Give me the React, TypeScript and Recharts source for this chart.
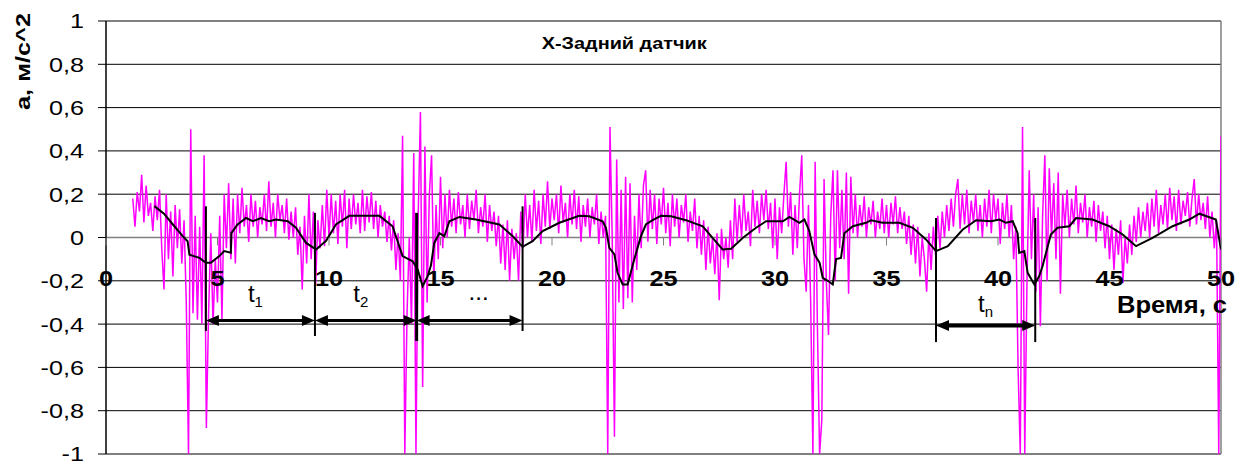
import React from 'react';
import { LineChart, Line, XAxis, YAxis, CartesianGrid, ReferenceLine } from 'recharts';

const W = 1243;
const H = 463;
const MARGIN = { top: 21, right: 22, bottom: 0, left: 46 };
const X_AXIS_H = 9;
const PLOT_H = H - MARGIN.top - MARGIN.bottom - X_AXIS_H;
const Y_ZERO_PX = MARGIN.top + PLOT_H / 2;
const X_LABEL_BASELINE = 285.5;
const FONT = '"Liberation Sans", Arial, sans-serif';

const X_TICKS = [0, 5, 10, 15, 20, 25, 30, 35, 40, 45, 50];
const Y_TICKS = [-1, -0.8, -0.6, -0.4, -0.2, 0, 0.2, 0.4, 0.6, 0.8, 1];

// raw acceleration, sampled every 0.1 s; first row starts at 1.2 s, next rows at 2 s, 3 s, ...
const SAMPLE_STEP = 0.1;
const MAGENTA_FIRST_T = 1.2;
const MAGENTA_ROWS: number[][] = [
  [0.18, 0.05, 0.21, 0.12, 0.29, 0.07, 0.24, 0.1],
  [0.16, 0.03, 0.19, 0.08, 0.22, -0.05, -0.24, 0.2, -0.1, 0.12],
  [-0.18, 0.15, -0.05, 0.13, -0.12, 0.08, -0.3, -1.0, 0.5, -0.35],
  [0.1, -0.38, 0.05, -0.4, 0.38, -0.88, -0.35, 0.02, -0.4, -0.1],
  [-0.3, 0.1, -0.38, 0.2, -0.05, 0.25, -0.1, 0.18, -0.12, 0.2],
  [0.02, 0.23, 0.05, 0.15, -0.02, 0.2, 0.05, 0.17, 0.0, 0.14],
  [0.06, 0.2, 0.03, 0.26, 0.05, 0.16, 0.0, 0.2, 0.08, 0.15],
  [0.02, 0.18, -0.01, 0.12, 0.0, 0.14, -0.08, 0.05, -0.24, 0.1],
  [-0.12, 0.2, -0.1, 0.12, -0.22, 0.08, -0.05, 0.15, -0.04, 0.22],
  [0.0, 0.2, 0.02, 0.17, -0.03, 0.2, 0.05, 0.22, -0.05, 0.18],
  [0.04, 0.2, 0.06, 0.16, 0.02, 0.22, 0.03, 0.19, 0.07, 0.21],
  [0.04, 0.17, 0.0, 0.15, 0.05, 0.12, -0.02, 0.1, -0.06, 0.08],
  [-0.15, 0.02, -0.2, 0.47, -1.0, -0.35, 0.0, -0.4, 0.39, -1.0],
  [0.1, 0.58, -0.69, 0.42, -0.3, 0.2, 0.38, -0.2, 0.15, -0.1],
  [0.28, -0.05, 0.2, 0.0, 0.22, 0.05, 0.18, 0.02, 0.21, 0.06],
  [0.15, 0.0, 0.2, 0.04, 0.17, 0.08, 0.22, 0.02, 0.14, 0.05],
  [0.2, -0.02, 0.15, 0.03, 0.12, -0.04, 0.1, -0.12, 0.06, -0.15],
  [0.08, -0.2, 0.04, -0.1, 0.02, -0.2, 0.12, -0.05, 0.2, 0.0],
  [0.15, -0.02, 0.22, 0.03, 0.17, -0.03, 0.2, 0.05, 0.26, 0.04],
  [0.18, 0.08, 0.2, 0.02, 0.24, 0.07, 0.16, 0.0, 0.2, 0.06],
  [0.22, 0.04, 0.19, -0.02, 0.15, 0.05, 0.18, 0.0, 0.14, 0.06],
  [0.2, -0.03, 0.12, 0.0, 0.1, -1.0, 0.51, 0.0, -0.92, 0.36],
  [-0.3, 0.22, -0.33, 0.28, -0.28, 0.25, -0.3, 0.1, -0.15, 0.2],
  [-0.05, 0.24, 0.31, -0.02, 0.22, 0.04, 0.2, -0.03, 0.18, 0.06],
  [0.23, 0.02, 0.16, -0.04, 0.2, 0.05, 0.18, 0.0, 0.15, 0.07],
  [0.2, -0.02, 0.12, 0.03, 0.18, -0.05, 0.1, -0.08, 0.08, -0.15],
  [0.05, -0.12, 0.0, -0.17, 0.02, -0.29, 0.04, -0.1, 0.0, -0.14],
  [0.08, -0.1, 0.18, -0.02, 0.15, 0.0, 0.2, 0.03, 0.12, -0.04],
  [0.22, 0.05, 0.17, 0.02, 0.2, 0.08, 0.22, 0.04, 0.16, -0.05],
  [0.18, -0.1, 0.14, 0.02, 0.2, 0.35, 0.05, 0.21, -0.08, 0.15],
  [-0.05, 0.2, 0.38, -0.1, -0.25, 0.15, -0.3, -1.0, 0.35, -0.4],
  [-1.0, -0.84, 0.27, -0.2, -0.45, 0.1, 0.31, -0.2, 0.31, -0.05],
  [0.22, -0.1, 0.3, -0.26, 0.28, 0.02, 0.2, 0.0, 0.15, 0.05],
  [0.19, 0.0, 0.14, 0.06, 0.17, 0.0, 0.12, 0.04, 0.18, 0.02],
  [0.15, 0.0, 0.16, 0.06, 0.19, 0.02, 0.14, 0.04, 0.12, -0.03],
  [0.1, -0.08, 0.06, -0.12, 0.05, -0.18, 0.0, -0.1, -0.25, 0.02],
  [-0.15, 0.05, -0.08, 0.1, -0.05, 0.12, 0.0, 0.15, 0.03, 0.18],
  [0.05, 0.2, 0.27, 0.04, 0.2, 0.06, 0.22, 0.02, 0.17, 0.07],
  [0.2, 0.03, 0.15, 0.0, 0.18, 0.05, 0.22, 0.02, 0.2, 0.08],
  [0.18, -0.03, 0.16, 0.04, 0.2, 0.0, 0.15, -0.1, 0.05, -0.6],
  [-1.0, 0.51, -1.0, -0.2, 0.31, -0.1, 0.2, -0.25, 0.14, -0.41],
  [0.1, 0.38, -0.2, 0.32, 0.0, 0.25, -0.1, 0.3, -0.26, 0.2],
  [0.05, 0.22, 0.0, 0.18, 0.06, 0.24, 0.02, 0.16, 0.07, 0.2],
  [0.0, 0.14, 0.05, 0.17, -0.02, 0.15, 0.03, 0.12, -0.05, 0.1],
  [-0.1, 0.06, -0.15, 0.04, -0.08, 0.08, -0.21, 0.0, -0.12, 0.06],
  [-0.08, 0.1, -0.02, 0.14, 0.0, 0.12, 0.03, 0.16, 0.0, 0.18],
  [0.05, 0.22, 0.02, 0.15, 0.06, 0.2, 0.04, 0.23, 0.08, 0.19],
  [0.03, 0.22, 0.06, 0.17, 0.1, 0.21, 0.05, 0.18, 0.27, 0.06],
  [0.2, 0.08, 0.16, 0.04, 0.19, 0.0, 0.12, -0.05, 0.08, -1.0],
  [0.47],
];

// smoothed (moving average) curve: [time s, value]
const SMOOTH_POINTS: [number, number][] = [
  [2.17, 0.145], [2.6, 0.11], [3.0, 0.06], [3.44, 0.006], [3.66, -0.017], [3.74, -0.08],
  [4.19, -0.094], [4.48, -0.117], [4.7, -0.117], [5.08, -0.086], [5.3, -0.063], [5.6, -0.07],
  [5.62, 0.02], [5.9, 0.06], [6.28, 0.09], [6.58, 0.075], [6.95, 0.09], [7.32, 0.075],
  [7.62, 0.083], [8.15, 0.075], [8.52, 0.045], [8.97, -0.025], [9.42, -0.055], [9.87, -0.015],
  [10.31, 0.06], [10.91, 0.1], [12.26, 0.1], [12.85, 0.052], [13.3, -0.086], [13.75, -0.11],
  [13.98, -0.148], [14.2, -0.225], [14.42, -0.18], [14.57, -0.13], [14.72, -0.025], [14.95, 0.02],
  [15.17, 0.006], [15.4, 0.075], [15.85, 0.095], [16.59, 0.083], [17.64, 0.06], [18.24, 0.006],
  [18.68, -0.043], [19.13, -0.017], [19.58, 0.03], [20.33, 0.068], [21.22, 0.1], [21.67, 0.098],
  [22.27, 0.075], [22.42, 0.045], [22.57, -0.048], [22.8, -0.078], [22.94, -0.163], [23.17, -0.217],
  [23.39, -0.217], [23.69, -0.1], [23.99, 0.006], [24.21, 0.06], [24.51, 0.08], [24.89, 0.1],
  [25.34, 0.098], [26.01, 0.08], [26.76, 0.052], [27.2, -0.002], [27.65, -0.055], [28.03, -0.052],
  [28.55, -0.002], [29.15, 0.045], [29.6, 0.075], [30.35, 0.075], [30.65, 0.095], [31.09, 0.068],
  [31.32, 0.083], [31.54, 0.029], [31.77, -0.078], [32.0, -0.117], [32.14, -0.186], [32.37, -0.2],
  [32.59, -0.217], [32.74, -0.1], [32.96, -0.094], [33.11, 0.02], [33.49, 0.052], [34.08, 0.068],
  [34.31, 0.08], [34.83, 0.068], [35.58, 0.068], [36.18, 0.045], [36.77, -0.009], [37.22, -0.063],
  [37.75, -0.04], [38.42, 0.037], [39.02, 0.08], [39.69, 0.075], [40.06, 0.083], [40.36, 0.068],
  [40.66, 0.075], [40.88, 0.02], [40.95, -0.071], [41.18, -0.063], [41.33, -0.163], [41.63, -0.217],
  [41.85, -0.178], [42.0, -0.132], [42.23, -0.04], [42.37, 0.014], [42.67, 0.045], [43.2, 0.052],
  [43.5, 0.09], [44.24, 0.083], [44.99, 0.052], [45.59, 0.014], [46.19, -0.04], [46.93, -0.002],
  [47.83, 0.052], [48.58, 0.083], [49.03, 0.11], [49.77, 0.083], [50.0, -0.055],
];

// annotation: vertical marker lines (time, top value, bottom value)
const MARKER_LINES: [number, number, number][] = [
  [4.48, 0.144, -0.432],
  [9.37, 0.114, -0.455],
  [13.93, 0.114, -0.478],
  [18.68, 0.144, -0.432],
  [37.22, 0.09, -0.483],
  [41.67, 0.09, -0.483],
];

// annotation: period arrows (from, to, level, subscript)
const PERIOD_ARROWS: [number, number, number, string][] = [
  [4.48, 9.37, -0.383, '1'],
  [9.37, 13.93, -0.383, '2'],
  [13.93, 18.68, -0.383, '...'],
  [37.22, 41.67, -0.406, 'n'],
];
const ARROW_LABEL_SHIFT = [
  { dx: -5, dy: -18, w: 3 },
  { dx: -5, dy: -18, w: 3 },
  { dx: 9, dy: -20, w: 3 },
  { dx: 0, dy: -13, w: 4 },
];

const magentaData: { t: number; a: number }[] = [];
MAGENTA_ROWS.forEach((row, r) => {
  const start = r === 0 ? MAGENTA_FIRST_T : r + 1;
  row.forEach((v, i) => {
    magentaData.push({ t: +(start + i * SAMPLE_STEP).toFixed(2), a: v });
  });
});
const smoothData = SMOOTH_POINTS.map(([t, v]) => ({ t, s: v }));

const fmtY = (v: number) => String(Math.round(v * 10) / 10).replace('.', ',');

const XTick = (props: any) => {
  const { x, payload } = props;
  return (
    <g>
      <line x1={x} x2={x} y1={Y_ZERO_PX} y2={Y_ZERO_PX + 8} stroke="#808080" strokeWidth={1} />
      <text
        transform={`translate(${x},${X_LABEL_BASELINE}) scale(1.15,1)`}
        textAnchor="middle"
        fontFamily={FONT}
        fontWeight="bold"
        fontSize={22}
        fill="#000"
      >
        {payload.value}
      </text>
    </g>
  );
};

const YTick = (props: any) => {
  const { x, y, payload } = props;
  return (
    <text
      transform={`translate(${x},${y}) scale(1.2,1)`}
      textAnchor="end"
      dy="0.355em"
      fontFamily={FONT}
      fontSize={21}
      fill="#000"
    >
      {fmtY(payload.value)}
    </text>
  );
};

const makeArrowShape = (label: string, idx: number) => (p: any) => {
  const { x1, y1, x2 } = p;
  const sh = ARROW_LABEL_SHIFT[idx];
  const left = Math.min(x1, x2);
  const right = Math.max(x1, x2);
  const y = y1;
  const L = 13;
  const hw = 5.5;
  const mid = (left + right) / 2 + sh.dx;
  return (
    <g>
      <line x1={left + L - 2} x2={right - L + 2} y1={y} y2={y} stroke="#000" strokeWidth={sh.w} />
      <polygon points={`${left},${y} ${left + L},${y - hw} ${left + L},${y + hw}`} fill="#000" />
      <polygon points={`${right},${y} ${right - L},${y - hw} ${right - L},${y + hw}`} fill="#000" />
      {label === '...' ? (
        <text x={mid} y={y + sh.dy} textAnchor="middle" fontFamily={FONT} fontSize={24} fill="#000">
          ...
        </text>
      ) : (
        <text x={mid} y={y + sh.dy} textAnchor="middle" fontFamily={FONT} fontSize={24} fill="#000">
          t
          <tspan fontSize={15} dy={5}>
            {label}
          </tspan>
        </text>
      )}
    </g>
  );
};

export default function App() {
  return (
    <div style={{ position: 'absolute', left: 0, top: 0, width: W, height: H, background: '#fff' }}>
      <LineChart width={W} height={H} margin={MARGIN}>
        <CartesianGrid vertical={false} stroke="#000" strokeWidth={1} />
        <XAxis
          type="number"
          dataKey="t"
          domain={[0, 50]}
          ticks={X_TICKS}
          interval={0}
          height={X_AXIS_H}
          axisLine={false}
          tickLine={false}
          tick={(props: any) => <XTick {...props} />}
          allowDataOverflow
        />
        <YAxis
          type="number"
          domain={[-1, 1]}
          ticks={Y_TICKS}
          interval={0}
          width={60}
          tickSize={8}
          tickMargin={14}
          axisLine={{ stroke: '#000', strokeWidth: 1.5 }}
          tickLine={{ stroke: '#000', strokeWidth: 1 }}
          tick={(props: any) => <YTick {...props} />}
          allowDataOverflow
        />
        <ReferenceLine y={1} stroke="#808080" strokeWidth={2} />
        <ReferenceLine y={-1} stroke="#808080" strokeWidth={2} />
        <ReferenceLine x={50} stroke="#808080" strokeWidth={1.5} />
        <ReferenceLine y={0} stroke="#808080" strokeWidth={1.5} />
        <Line
          data={magentaData}
          dataKey="a"
          type="linear"
          stroke="#FF00FF"
          strokeWidth={1.5}
          dot={false}
          isAnimationActive={false}
        />
        <Line
          data={smoothData}
          dataKey="s"
          type="linear"
          stroke="#000"
          strokeWidth={2}
          dot={false}
          isAnimationActive={false}
        />
        {MARKER_LINES.map(([t, top, bottom], i) => (
          <ReferenceLine
            key={'m' + i}
            segment={[
              { x: t, y: top },
              { x: t, y: bottom },
            ]}
            stroke="#000"
            strokeWidth={i === 2 ? 3 : 2}
          />
        ))}
        {PERIOD_ARROWS.map(([from, to, level, label], i) => (
          <ReferenceLine
            key={'a' + i}
            segment={[
              { x: from, y: level },
              { x: to, y: level },
            ]}
            stroke="#000"
            shape={makeArrowShape(label, i)}
          />
        ))}
      </LineChart>
      <svg
        width={W}
        height={H}
        style={{ position: 'absolute', left: 0, top: 0, pointerEvents: 'none' }}
      >
        <text
          x={541.7}
          y={49}
          fontFamily={FONT}
          fontWeight="bold"
          fontSize={16}
          textLength={165}
          lengthAdjust="spacingAndGlyphs"
          fill="#000"
        >
          X-Задний датчик
        </text>
        <text
          transform="translate(30,110) rotate(-90)"
          fontFamily={FONT}
          fontWeight="bold"
          fontSize={21}
          textLength={97}
          lengthAdjust="spacingAndGlyphs"
          fill="#000"
        >
          a, м/с^2
        </text>
        <text
          x={1117}
          y={313}
          fontFamily={FONT}
          fontWeight="bold"
          fontSize={23}
          textLength={110}
          lengthAdjust="spacingAndGlyphs"
          fill="#000"
        >
          Время, с
        </text>
      </svg>
    </div>
  );
}
